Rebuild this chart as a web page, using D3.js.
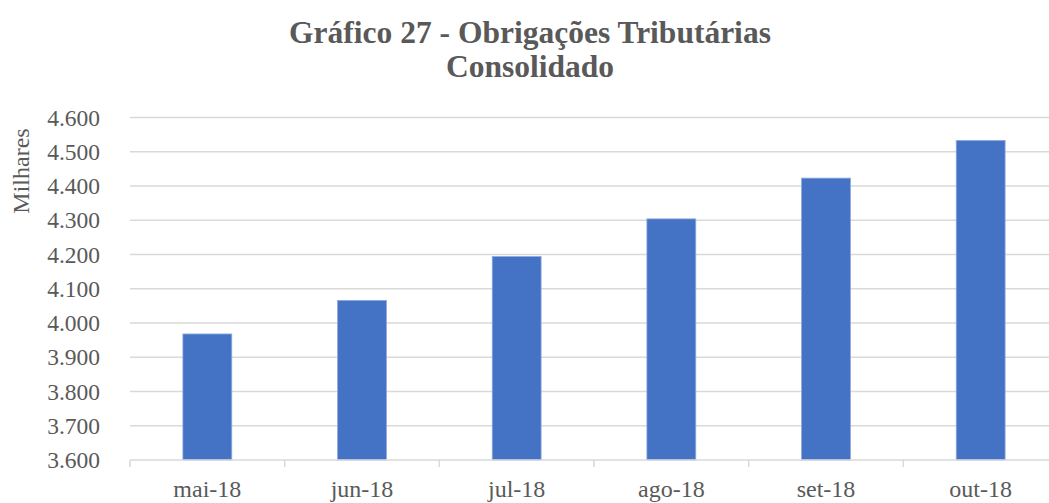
<!DOCTYPE html>
<html><head><meta charset="utf-8">
<script src="https://cdn.jsdelivr.net/npm/d3@7"></script>
<style>body{margin:0;background:#fff}svg{display:block}</style>
</head><body>
<svg id="c" width="1049" height="503"></svg>
<script>
const categories = ["mai-18","jun-18","jul-18","ago-18","set-18","out-18"];
const values = [3968, 4066, 4194, 4304, 4423, 4533];
const yTicks = [3600,3700,3800,3900,4000,4100,4200,4300,4400,4500,4600];
const titleLines = ["Gráfico 27 - Obrigações Tributárias","Consolidado"];
const yLabel = "Milhares";

const svg = d3.select("#c");
const font = "'Liberation Serif','DejaVu Serif',serif";
const gray = "#595959";
const m = {left:130, right:1058, top:117.5, bottom:460};

const x = d3.scaleBand().domain(categories).range([m.left, m.right]).paddingInner(0.684).paddingOuter(0.342);
const y = d3.scaleLinear().domain([3600,4600]).range([m.bottom, m.top]);
const fmt = v => d3.format(",")(v).replace(/,/g, ".");

// gridlines
svg.append("g").selectAll("line").data(yTicks.slice(1)).join("line")
  .attr("x1", m.left).attr("x2", m.right)
  .attr("y1", d=>y(d)).attr("y2", d=>y(d))
  .attr("stroke","#d9d9d9").attr("stroke-width",1.5);

// bars
svg.append("g").selectAll("rect").data(values).join("rect")
  .attr("x",(d,i)=>x(categories[i])).attr("width",x.bandwidth())
  .attr("y",d=>y(d)).attr("height",d=>y(3600)-y(d))
  .attr("fill","#4472c4").attr("stroke","#8faadc").attr("stroke-width",0.8);

// x axis
const xa = svg.append("g");
xa.append("line").attr("x1",m.left).attr("x2",m.right).attr("y1",m.bottom).attr("y2",m.bottom)
  .attr("stroke","#d9d9d9").attr("stroke-width",1.5);
const bounds = d3.range(categories.length+1).map(i=>m.left + i*(m.right-m.left)/categories.length);
xa.selectAll("line.t").data(bounds).join("line").attr("class","t")
  .attr("x1",d=>d).attr("x2",d=>d).attr("y1",m.bottom).attr("y2",m.bottom+7)
  .attr("stroke","#d9d9d9").attr("stroke-width",1.5);
xa.selectAll("text").data(categories).join("text")
  .attr("x",d=>x(d)+x.bandwidth()/2).attr("y",497)
  .attr("text-anchor","middle").attr("font-family",font).attr("font-size",24)
  .attr("fill",gray).text(d=>d);

// y labels
svg.append("g").selectAll("text").data(yTicks).join("text")
  .attr("x",100).attr("y",d=>y(d)).attr("dy","0.35em")
  .attr("text-anchor","end").attr("font-family",font).attr("font-size",23.5)
  .attr("fill",gray).text(d=>fmt(d));

svg.append("text").attr("transform","translate(29,171) rotate(-90)")
  .attr("text-anchor","middle").attr("font-family",font).attr("font-size",24)
  .attr("fill",gray).text(yLabel);

// title
svg.append("g").selectAll("text").data(titleLines).join("text")
  .attr("x",530).attr("y",(d,i)=>43+i*34)
  .attr("text-anchor","middle").attr("font-family",font).attr("font-size",31.5)
  .attr("font-weight","bold").attr("fill",gray).text(d=>d);
</script>
</body></html>
